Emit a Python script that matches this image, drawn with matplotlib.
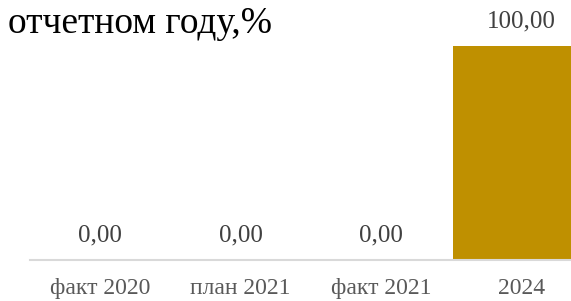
import matplotlib
matplotlib.use("Agg")
import matplotlib.pyplot as plt

categories = ["факт 2020", "план 2021", "факт 2021", "2024"]
values = [0.0, 0.0, 0.0, 100.0]
labels = ["0,00", "0,00", "0,00", "100,00"]
title = "отчетном году,%"

plt.rcParams['font.family'] = ['Liberation Serif', 'DejaVu Serif']

W, H = 571, 301
fig = plt.figure(figsize=(W/100, H/100), dpi=100)
left_px, right_px = 30, 592
base_px, top_px = 260, 46
ax = fig.add_axes([left_px/W, (H-base_px)/H, (right_px-left_px)/W, (base_px-top_px)/H])
x = list(range(len(categories)))
ax.bar(x, values, width=0.975, color="#BF9000", zorder=2)
ax.set_xlim(-0.5, 3.5)
ax.set_ylim(0, 100)
for s in ["top", "right", "left"]:
    ax.spines[s].set_visible(False)
ax.spines["bottom"].set_color("#D9D9D9")
ax.spines["bottom"].set_linewidth(1.5)
ax.spines["bottom"].set_zorder(3)
ax.set_yticks([])
ax.set_xticks(x)
ax.set_xticklabels(categories, fontsize=17, color="#595959")
ax.tick_params(axis="x", length=0, pad=13)
for xi, v, lab in zip(x, values, labels):
    ax.annotate(lab, (xi, v), xytext=(0, 10), textcoords="offset points",
                ha="center", va="bottom", fontsize=18, color="#404040", clip_on=False)
fig.text(8/W, 1-33/H, title, fontsize=27, color="black", ha="left", va="baseline")
fig.savefig("out.png", dpi=100)
